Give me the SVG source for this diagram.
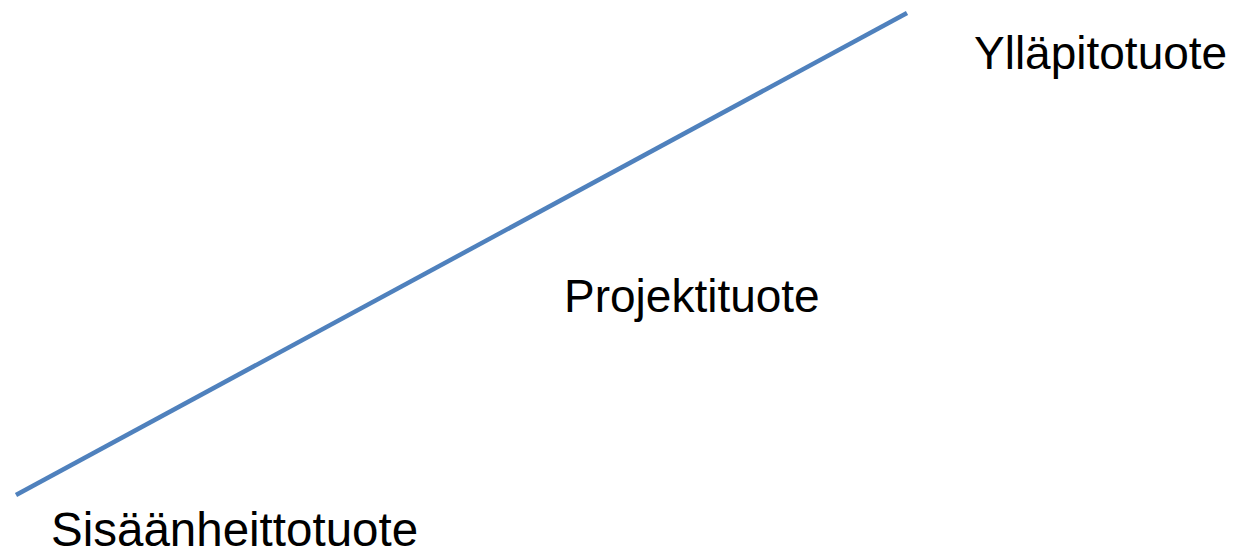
<svg xmlns="http://www.w3.org/2000/svg" width="1241" height="557" viewBox="0 0 1241 557">
<style>
.lbl{font-family:"Liberation Sans",Arial,sans-serif;font-size:46px;fill:#000}
.ln{stroke:#4F81BD;stroke-width:4.5;fill:none}
</style>
<rect width="1241" height="557" fill="#fff"/>
<g id="connectors">
<line class="ln" x1="16" y1="495" x2="907" y2="13"/>
</g>
<g id="node-yllapitotuote"><text class="lbl" x="974" y="69">Ylläpitotuote</text></g>
<g id="node-projektituote"><text class="lbl" x="564" y="312">Projektituote</text></g>
<g id="node-sisaanheittotuote"><text class="lbl" x="51" y="546" style="font-size:47.5px">Sisäänheittotuote</text></g>
</svg>
